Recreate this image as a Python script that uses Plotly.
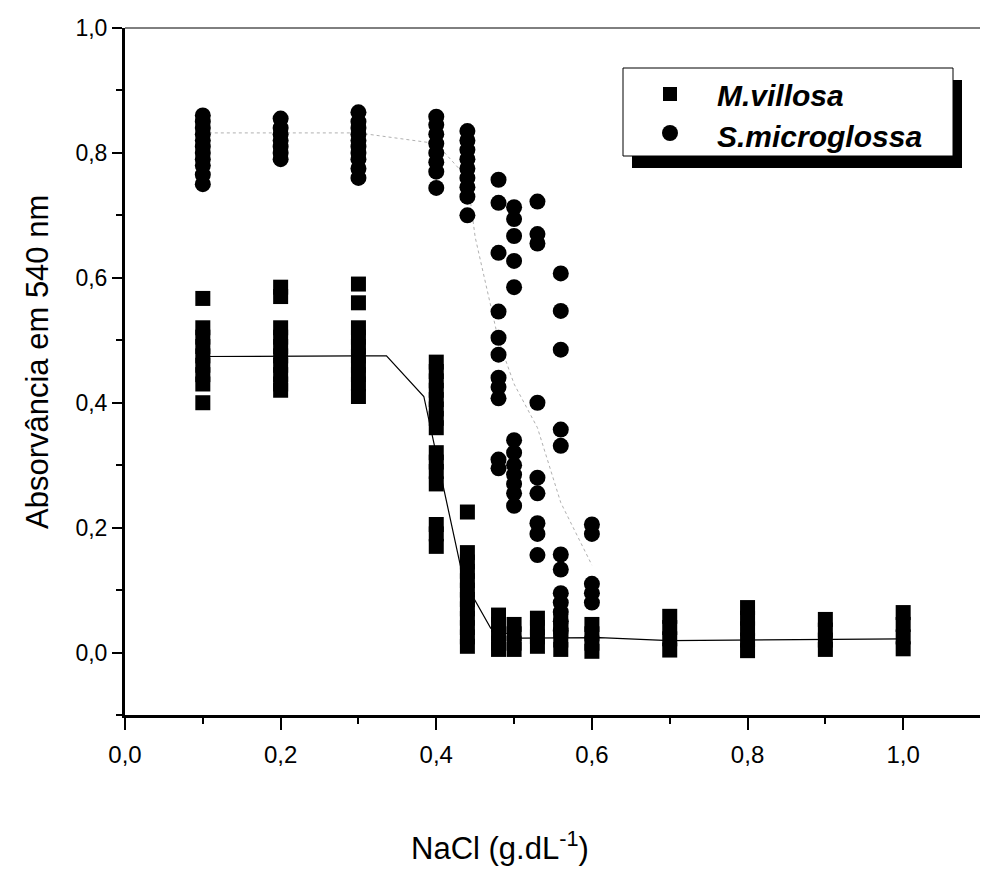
import plotly.graph_objects as go

# ---------------- data ----------------
mv_conc = [0.1, 0.2, 0.3, 0.4, 0.44, 0.48, 0.5, 0.53, 0.56, 0.6, 0.7, 0.8, 0.9, 1.0]
mv_values = [
    [0.567, 0.52, 0.505, 0.49, 0.475, 0.46, 0.445, 0.43, 0.40],
    [0.585, 0.57, 0.52, 0.505, 0.49, 0.475, 0.46, 0.445, 0.43, 0.42],
    [0.59, 0.56, 0.52, 0.505, 0.49, 0.475, 0.46, 0.445, 0.43, 0.41],
    [0.465, 0.45, 0.435, 0.42, 0.405, 0.39, 0.375, 0.36, 0.32, 0.305, 0.29, 0.27, 0.205, 0.19, 0.17],
    [0.225, 0.16, 0.145, 0.13, 0.115, 0.10, 0.085, 0.07, 0.055, 0.04, 0.025, 0.01],
    [0.06, 0.045, 0.03, 0.015, 0.005],
    [0.045, 0.03, 0.015, 0.005],
    [0.055, 0.04, 0.025, 0.01],
    [0.05, 0.035, 0.02, 0.005],
    [0.045, 0.03, 0.015, 0.002],
    [0.058, 0.04, 0.022, 0.004],
    [0.072, 0.055, 0.038, 0.02, 0.003],
    [0.053, 0.036, 0.02, 0.005],
    [0.064, 0.045, 0.025, 0.006],
]

sm_conc = [0.1, 0.2, 0.3, 0.4, 0.44, 0.48, 0.5, 0.53, 0.56, 0.6]
sm_values = [
    [0.86, 0.85, 0.84, 0.83, 0.82, 0.81, 0.80, 0.79, 0.78, 0.765, 0.75],
    [0.855, 0.84, 0.83, 0.82, 0.81, 0.80, 0.79],
    [0.865, 0.85, 0.84, 0.83, 0.82, 0.81, 0.80, 0.79, 0.775, 0.76],
    [0.858, 0.845, 0.83, 0.815, 0.80, 0.785, 0.77, 0.744],
    [0.835, 0.82, 0.805, 0.79, 0.775, 0.76, 0.745, 0.73, 0.70],
    [0.757, 0.72, 0.64, 0.546, 0.504, 0.477, 0.44, 0.425, 0.407, 0.309, 0.295],
    [0.713, 0.694, 0.667, 0.627, 0.585, 0.34, 0.32, 0.30, 0.285, 0.27, 0.255, 0.235],
    [0.722, 0.67, 0.655, 0.40, 0.28, 0.255, 0.207, 0.19, 0.156],
    [0.607, 0.547, 0.485, 0.357, 0.331, 0.157, 0.133, 0.095, 0.08, 0.065, 0.05, 0.035],
    [0.205, 0.19, 0.11, 0.095, 0.08],
]

# curves drawn through the data
mv_curve_x = [0.1, 0.2, 0.3, 0.336, 0.384, 0.435, 0.47, 0.51, 0.55, 0.61, 0.70, 0.80, 0.90, 1.0]
mv_curve_y = [0.474, 0.475, 0.475, 0.475, 0.41, 0.116, 0.039, 0.023, 0.023, 0.024, 0.019, 0.02, 0.02, 0.022]
sm_curve_x = [0.1, 0.2, 0.3, 0.4, 0.44, 0.45, 0.48, 0.5, 0.53, 0.56, 0.6]
sm_curve_y = [0.832, 0.832, 0.832, 0.815, 0.76, 0.665, 0.5, 0.43, 0.36, 0.24, 0.14]

x_tickvals = [0.0, 0.2, 0.4, 0.6, 0.8, 1.0]
x_ticktext = ["0,0", "0,2", "0,4", "0,6", "0,8", "1,0"]
y_tickvals = [0.0, 0.2, 0.4, 0.6, 0.8, 1.0]
y_ticktext = ["0,0", "0,2", "0,4", "0,6", "0,8", "1,0"]
series_names = ["M.villosa", "S.microglossa"]
x_title = "NaCl (g.dL<sup>-1</sup>)"
y_title = "Absorvância em 540 nm"

# ---------------- flatten ----------------
def flatten(conc, values):
    xs, ys = [], []
    for c, vals in zip(conc, values):
        for v in vals:
            xs.append(c)
            ys.append(v)
    return xs, ys

mv_x, mv_y = flatten(mv_conc, mv_values)
sm_x, sm_y = flatten(sm_conc, sm_values)

# page body has an 8 px margin; figure is sized so the plot lands where the reference has it
OFF = 8
W, H = 988 - OFF, 869 - OFF
ML, MR, MT, MB = 125 - OFF, 7, 28 - OFF, 154
PW, PH = W - ML - MR, H - MT - MB

def pxx(px):
    return (px - OFF - ML) / PW

def pxy(py):
    return (H - MB - (py - OFF)) / PH

FONT = "Liberation Sans, Arial, sans-serif"

fig = go.Figure()

fig.add_trace(go.Scatter(x=sm_curve_x, y=sm_curve_y, mode="lines",
                         line=dict(color="#b0b0b0", width=1, dash="dot"),
                         showlegend=False, hoverinfo="skip"))
fig.add_trace(go.Scatter(x=mv_curve_x, y=mv_curve_y, mode="lines",
                         line=dict(color="black", width=1.2),
                         showlegend=False, hoverinfo="skip"))
fig.add_trace(go.Scatter(x=mv_x, y=mv_y, mode="markers", name=series_names[0],
                         marker=dict(symbol="square", size=15, color="black",
                                     line=dict(width=0))))
fig.add_trace(go.Scatter(x=sm_x, y=sm_y, mode="markers", name=series_names[1],
                         marker=dict(symbol="circle", size=16, color="black",
                                     line=dict(width=0))))

fig.update_xaxes(range=[0, 1.1], showgrid=False, zeroline=False, automargin=False,
                 showline=True, linecolor="black", linewidth=3,
                 ticks="outside", ticklen=12, tickwidth=2, tickcolor="black",
                 tickmode="array", tickvals=x_tickvals, ticktext=x_ticktext,
                 tickfont=dict(family=FONT, size=24, color="black"), ticklabelstandoff=4,
                 minor=dict(tickmode="array", tickvals=[0.1, 0.3, 0.5, 0.7, 0.9, 1.1],
                            ticks="outside", ticklen=6, tickwidth=2, tickcolor="black"))
fig.update_yaxes(range=[-0.1, 1.0], showgrid=False, zeroline=False, automargin=False,
                 showline=True, linecolor="black", linewidth=3,
                 ticks="outside", ticklen=10, tickwidth=2, tickcolor="black",
                 tickmode="array", tickvals=y_tickvals, ticktext=y_ticktext,
                 tickfont=dict(family=FONT, size=23, color="black"),
                 minor=dict(tickmode="array", tickvals=[-0.1, 0.1, 0.3, 0.5, 0.7, 0.9],
                            ticks="outside", ticklen=6, tickwidth=2, tickcolor="black"))

shapes = [
    # thin top and right frame
    dict(type="line", xref="paper", yref="paper", x0=0, x1=1, y0=1, y1=1,
         line=dict(color="black", width=1)),
    dict(type="line", xref="paper", yref="paper", x0=1, x1=1, y0=0, y1=1,
         line=dict(color="black", width=1)),
    # legend shadow and box
    dict(type="rect", xref="paper", yref="paper", x0=pxx(632), x1=pxx(962),
         y0=pxy(168), y1=pxy(80), fillcolor="black", line=dict(width=0)),
    dict(type="rect", xref="paper", yref="paper", x0=pxx(623), x1=pxx(953),
         y0=pxy(156), y1=pxy(68), fillcolor="white", line=dict(color="black", width=1)),
    # legend symbols
    dict(type="rect", xref="paper", yref="paper", x0=pxx(663), x1=pxx(677),
         y0=pxy(101), y1=pxy(87), fillcolor="black", line=dict(width=0)),
    dict(type="circle", xref="paper", yref="paper", x0=pxx(662), x1=pxx(678),
         y0=pxy(141), y1=pxy(125), fillcolor="black", line=dict(width=0)),
]

leg_font = dict(family=FONT, size=30, color="black")
title_font = dict(family=FONT, size=31, color="black")
annotations = [
    dict(xref="paper", yref="paper", x=pxx(715), y=pxy(96), xanchor="left", yanchor="middle",
         text="<b><i>" + series_names[0] + "</i></b>", showarrow=False, font=leg_font),
    dict(xref="paper", yref="paper", x=pxx(715), y=pxy(137), xanchor="left", yanchor="middle",
         text="<b><i>" + series_names[1] + "</i></b>", showarrow=False, font=leg_font),
    dict(xref="paper", yref="paper", x=pxx(500), y=pxy(846), xanchor="center", yanchor="middle",
         text=x_title, showarrow=False, font=title_font),
    dict(xref="paper", yref="paper", x=pxx(38), y=pxy(362), xanchor="center", yanchor="middle",
         text=y_title, textangle=-90, showarrow=False, font=title_font),
]

fig.update_layout(width=W, height=H, margin=dict(l=ML, r=MR, t=MT, b=MB),
                  paper_bgcolor="white", plot_bgcolor="white",
                  showlegend=False, shapes=shapes, annotations=annotations)

fig.write_html("out.html")
